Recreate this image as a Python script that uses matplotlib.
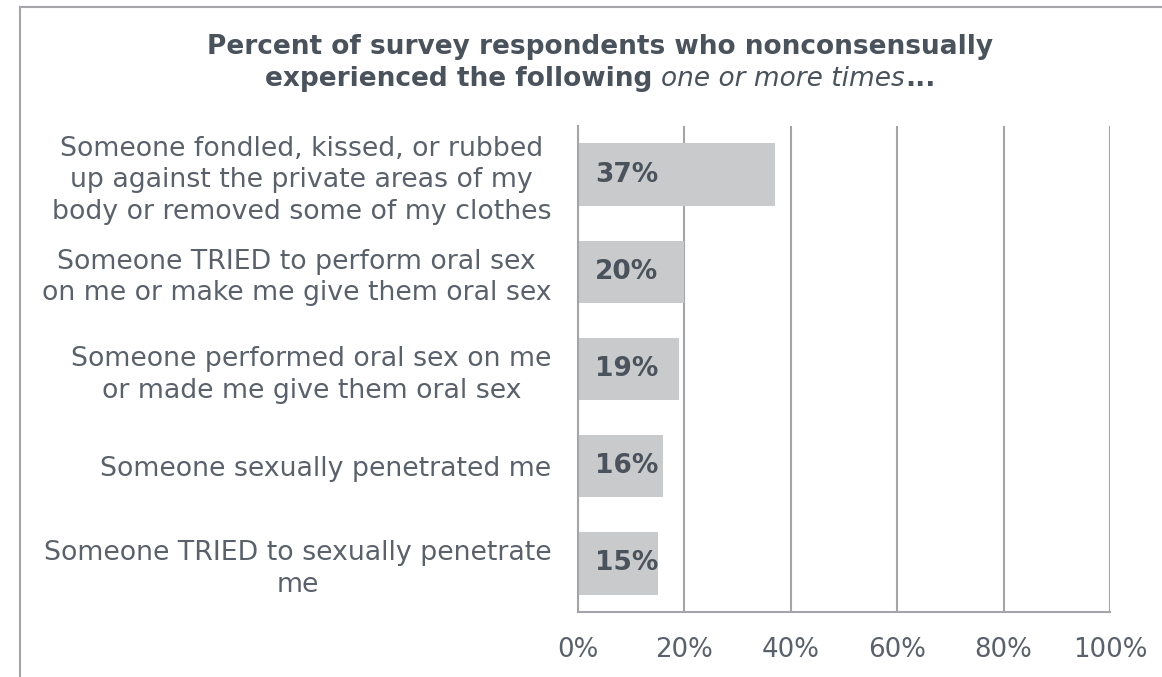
import matplotlib
matplotlib.use("Agg")
import matplotlib.pyplot as plt
from matplotlib.lines import Line2D
from matplotlib.transforms import IdentityTransform

# ── data ──
categories = [
    "Someone fondled, kissed, or rubbed\nup against the private areas of my\nbody or removed some of my clothes",
    "Someone TRIED to perform oral sex\non me or make me give them oral sex",
    "Someone performed oral sex on me\nor made me give them oral sex",
    "Someone sexually penetrated me",
    "Someone TRIED to sexually penetrate\nme",
]
values = [37, 20, 19, 16, 15]
xticks = [0, 20, 40, 60, 80, 100]
xtick_labels = [f"{t}%" for t in xticks]

BAR_COLOR = "#c9cacc"
GRID_COLOR = "#a3a5a8"
TEXT_COLOR = "#5a616b"
DARK_TEXT = "#4a525c"
W, H = 1162, 677

plt.rcParams["font.family"] = ["DejaVu Sans"]

fig = plt.figure(figsize=(W / 100, H / 100), dpi=100)
ax = fig.add_axes([578 / W, 1 - 612 / H, 532 / W, 486 / H])

y = list(range(len(categories)))
ax.barh(y, values, height=0.64, color=BAR_COLOR, zorder=2)
ax.set_ylim(len(categories) - 0.5, -0.5)
ax.set_xlim(0, 100)

for yi, v in zip(y, values):
    ax.text(3.2, yi, f"{v}%", ha="left", va="center", fontsize=19,
            fontweight="bold", color=DARK_TEXT, zorder=3)

ax.set_yticks(y)
ax.set_yticklabels(categories, fontsize=19.3, color=TEXT_COLOR,
                   multialignment="center", linespacing=1.28)
ax.set_xticks(xticks)
ax.set_xticklabels(xtick_labels, fontsize=18.7, color=TEXT_COLOR)
ax.tick_params(axis="y", length=0, pad=19)
ax.tick_params(axis="x", length=0, pad=18)

# 网格线
ax.xaxis.grid(True, color=GRID_COLOR, linewidth=1.5, zorder=1)
ax.set_axisbelow(True)
for s in ["top", "right"]:
    ax.spines[s].set_visible(False)
for s in ["left", "bottom"]:
    ax.spines[s].set_color(GRID_COLOR)
    ax.spines[s].set_linewidth(1.5)

# 标题（第二行混合字体）
TFS = 19
fig.text(600 / W, 1 - 47 / H, "Percent of survey respondents who nonconsensually",
         ha="center", va="center", fontsize=TFS, fontweight="bold", color=DARK_TEXT)
parts = [("experienced the following ", "normal", "bold"),
         ("one or more times", "italic", "normal"),
         ("...", "normal", "bold")]
r = fig.canvas.get_renderer()
texts = []
for s, style, weight in parts:
    texts.append(fig.text(0, 0, s, fontsize=TFS, fontstyle=style, fontweight=weight,
                          color=DARK_TEXT, va="baseline", transform=IdentityTransform()))
widths = [t.get_window_extent(r).width for t in texts]
x = 600 - sum(widths) / 2
base = H - 79 - 7
for t, w in zip(texts, widths):
    t.set_position((x, base))
    x += w

# 外框
fx = 20 / W
fy = 1 - 7 / H
fig.add_artist(Line2D([fx, fx], [0, fy], color=GRID_COLOR, linewidth=1.5))
fig.add_artist(Line2D([fx, 1], [fy, fy], color=GRID_COLOR, linewidth=1.5))

fig.savefig("out.png", dpi=100)
